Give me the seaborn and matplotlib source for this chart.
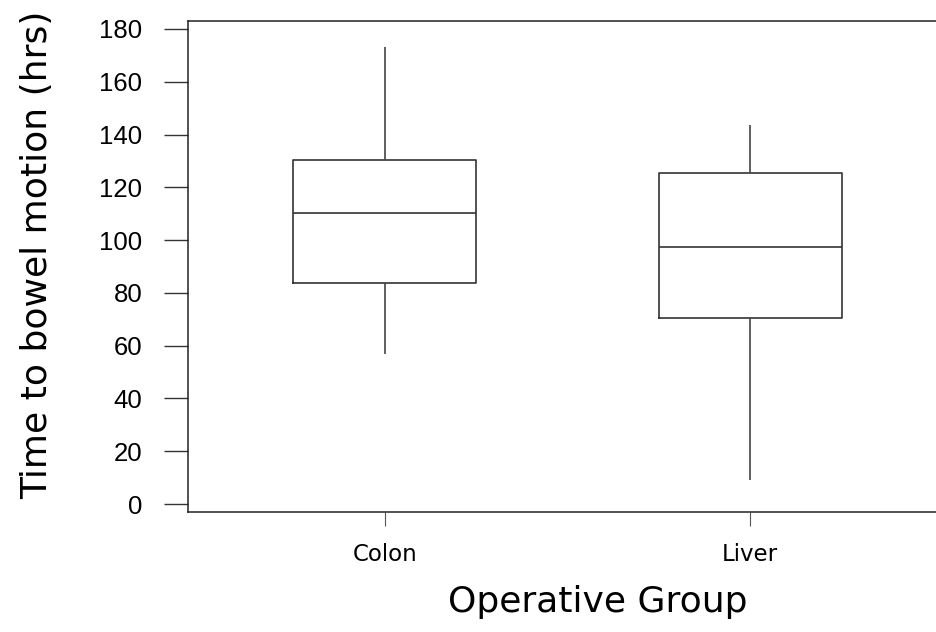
import matplotlib
matplotlib.use("Agg")
import matplotlib.pyplot as plt
import seaborn as sns
import pandas as pd

groups = ["Colon", "Liver"]
# five-number summaries: min, Q1, median, Q3, max
colon_vals = [56.8, 83.7, 110.3, 130.3, 173.2]
liver_vals = [9.1, 70.5, 97.4, 125.4, 143.6]
y_ticks = [0, 20, 40, 60, 80, 100, 120, 140, 160, 180]

df = pd.DataFrame({
    "group": [groups[0]] * len(colon_vals) + [groups[1]] * len(liver_vals),
    "value": colon_vals + liver_vals,
})

sns.set_theme(style="white")
plt.rcParams["font.family"] = ["DejaVu Sans"]
plt.rcParams["text.color"] = "black"
plt.rcParams["axes.labelcolor"] = "black"
plt.rcParams["xtick.color"] = "black"
plt.rcParams["ytick.color"] = "black"

fig = plt.figure(figsize=(9.36, 6.32), dpi=100)
ax = fig.add_axes([188/936, 1 - 512/632, 1 - 188/936, (512 - 21)/632])

line_c = "#333333"
sns.boxplot(data=df, x="group", y="value", order=groups, ax=ax,
            whis=(0, 100), width=0.5, fill=False, showcaps=False,
            color=line_c, linewidth=1.2,
            whiskerprops=dict(color="#444444"))

ax.set_xlim(-0.538, 1.508)
ax.set_ylim(-3.0, 183.0)
ax.set_yticks(y_ticks)
ax.set_yticklabels([str(t) for t in y_ticks], fontfamily="Liberation Sans", fontsize=18.5)

for s in ["left", "bottom", "top"]:
    ax.spines[s].set_visible(True)
    ax.spines[s].set_color("#222222")
    ax.spines[s].set_linewidth(1.1)
ax.spines["right"].set_visible(False)

ax.tick_params(axis="y", which="major", left=True, length=17, width=1.0,
               color="#333333", pad=16)
ax.tick_params(axis="x", which="major", bottom=True, length=10, width=0.8,
               color="#555555", pad=12, labelsize=16.5)

ax.set_xlabel("Operative Group", fontsize=26)
ax.xaxis.set_label_coords((598 - 188) / 748, -(585 - 512) / 491)
ax.set_ylabel("Time to bowel motion (hrs)", fontsize=26)
ax.yaxis.set_label_coords(-(188 - 54) / 748, (512 - 255) / 491)

fig.savefig("out.png", dpi=100)
